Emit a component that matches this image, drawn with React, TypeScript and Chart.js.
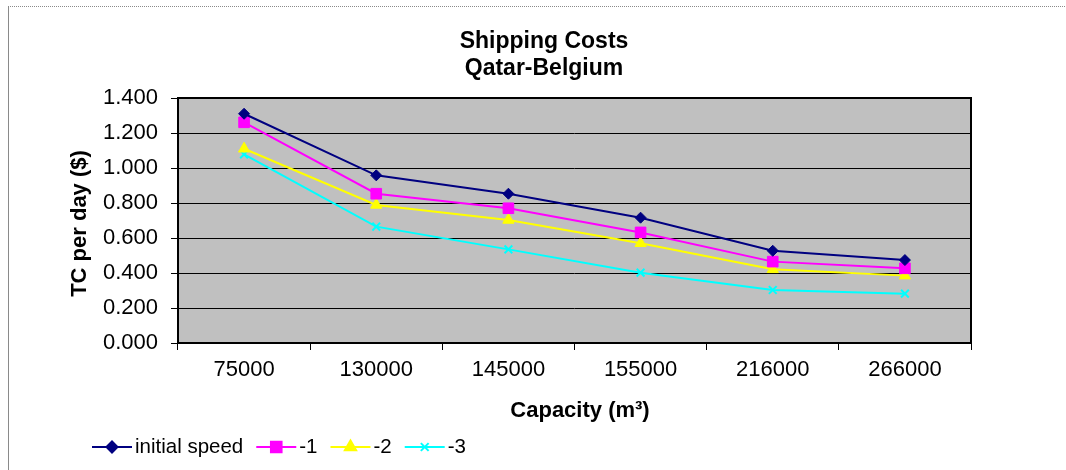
import React, { useEffect, useRef } from "react";
import { Chart, registerables } from "chart.js";
import { drawPoint } from "chart.js/helpers";

Chart.register(...registerables);

// Vessel capacities (m³) on the category axis
const capacities = ["75000", "130000", "145000", "155000", "216000", "266000"];

// Time-charter cost per day for each speed setting
const initialSpeed = [1.31, 0.958, 0.853, 0.716, 0.527, 0.474];
const speedMinus1 = [1.261, 0.853, 0.77, 0.632, 0.465, 0.427];
const speedMinus2 = [1.11, 0.789, 0.703, 0.57, 0.421, 0.385];
const speedMinus3 = [1.078, 0.665, 0.535, 0.402, 0.303, 0.282];

const seriesNames = ["initial speed", "-1", "-2", "-3"];
const titleLines = ["Shipping Costs", "Qatar-Belgium"];
const yAxisTitle = "TC per day ($)";
const xAxisTitle = "Capacity (m³)";

const yMin = 0;
const yMax = 1.4;
const yStep = 0.2;

const FONT = "'Liberation Sans', Arial, Helvetica, sans-serif";

const seriesStyles = [
  { color: "#000080", pointStyle: "rectRot", radius: 5.5 },
  { color: "#FF00FF", pointStyle: "rect", radius: 7.5 },
  { color: "#FFFF00", pointStyle: "triangle", radius: 6.5 },
  { color: "#00FFFF", pointStyle: "crossRot", radius: 5.5 },
];

const decorations = {
  id: "decorations",
  beforeDraw(chart: any) {
    const { ctx, chartArea: a } = chart;
    ctx.save();
    ctx.fillStyle = "#ffffff";
    ctx.fillRect(0, 0, chart.width, chart.height);
    // outer frame
    ctx.strokeStyle = "#8a8a8a";
    ctx.lineWidth = 1;
    ctx.setLineDash([1, 1]);
    ctx.beginPath();
    ctx.moveTo(8, 6.5);
    ctx.lineTo(chart.width, 6.5);
    ctx.stroke();
    ctx.setLineDash([]);
    ctx.beginPath();
    ctx.moveTo(8.5, 6);
    ctx.lineTo(8.5, chart.height);
    ctx.stroke();
    // plot background
    ctx.fillStyle = "#c0c0c0";
    ctx.fillRect(a.left, a.top, a.right - a.left, a.bottom - a.top);
    ctx.restore();
  },
  beforeDatasetsDraw(chart: any) {
    const { ctx, chartArea: a } = chart;
    ctx.save();
    ctx.strokeStyle = "#000000";
    ctx.lineWidth = 2;
    ctx.strokeRect(a.left, a.top, a.right - a.left, a.bottom - a.top);
    ctx.restore();
  },
  afterDraw(chart: any) {
    const { ctx, chartArea: a } = chart;
    ctx.save();
    ctx.fillStyle = "#000000";
    ctx.textAlign = "center";
    ctx.textBaseline = "middle";

    // chart title
    ctx.font = `bold 23px ${FONT}`;
    ctx.fillText(titleLines[0], 544, 42);
    ctx.fillText(titleLines[1], 544, 69);

    // x axis title
    ctx.font = `bold 22px ${FONT}`;
    ctx.fillText(xAxisTitle, 580, 411);

    // y axis title
    ctx.save();
    ctx.translate(80, (a.top + a.bottom) / 2 + 3);
    ctx.rotate(-Math.PI / 2);
    ctx.fillText(yAxisTitle, 0, 0);
    ctx.restore();

    // legend: line sample with marker, then label
    ctx.font = `20.5px ${FONT}`;
    ctx.textAlign = "left";
    let x = 92;
    const y = 447;
    chart.data.datasets.forEach((ds: any, i: number) => {
      const st = seriesStyles[i];
      const len = 40;
      ctx.strokeStyle = st.color;
      ctx.fillStyle = st.color;
      ctx.lineWidth = 2;
      ctx.beginPath();
      ctx.moveTo(x, y);
      ctx.lineTo(x + len, y);
      ctx.stroke();
      drawPoint(
        ctx,
        { pointStyle: st.pointStyle as any, radius: st.radius, rotation: 0, borderWidth: 2 },
        x + len / 2,
        y
      );
      ctx.fillStyle = "#000000";
      const tx = x + len + 3;
      ctx.fillText(ds.label, tx, y);
      x = tx + ctx.measureText(ds.label).width + 13;
    });
    ctx.restore();
  },
};

export default function App() {
  const canvasRef = useRef<HTMLCanvasElement | null>(null);

  useEffect(() => {
    if (!canvasRef.current) return;
    const seriesData = [initialSpeed, speedMinus1, speedMinus2, speedMinus3];
    const chart = new Chart(canvasRef.current, {
      type: "line",
      data: {
        labels: capacities,
        datasets: seriesData.map((values, i) => ({
          label: seriesNames[i],
          data: values,
          borderColor: seriesStyles[i].color,
          backgroundColor: seriesStyles[i].color,
          pointBackgroundColor: seriesStyles[i].color,
          pointBorderColor: seriesStyles[i].color,
          pointStyle: seriesStyles[i].pointStyle as any,
          pointRadius: seriesStyles[i].radius,
          pointBorderWidth: i === 3 ? 2 : 1,
          borderWidth: 2,
          tension: 0,
          fill: false,
        })),
      },
      options: {
        animation: false,
        responsive: false,
        devicePixelRatio: 1,
        layout: { padding: { left: 100, right: 95, top: 98, bottom: 80 } },
        plugins: {
          legend: { display: false },
          title: { display: false },
          tooltip: { enabled: false },
        },
        scales: {
          x: {
            type: "category",
            offset: true,
            border: { display: false },
            grid: {
              offset: true,
              drawOnChartArea: false,
              drawTicks: true,
              tickLength: 7,
              color: "#000000",
              lineWidth: 1,
            },
            ticks: {
              color: "#000000",
              font: { family: FONT, size: 22 },
              padding: 7,
              maxRotation: 0,
              autoSkip: false,
            },
            afterFit(scale: any) {
              scale.height = 47;
            },
          },
          y: {
            min: yMin,
            max: yMax,
            border: { display: false },
            grid: {
              color: "#000000",
              lineWidth: 1,
              tickLength: 7,
            },
            ticks: {
              stepSize: yStep,
              color: "#000000",
              font: { family: FONT, size: 22 },
              padding: 13,
              callback: (v: any) => Number(v).toFixed(3),
            },
            afterFit(scale: any) {
              scale.width = 78;
            },
          },
        },
      },
      plugins: [decorations],
    });
    return () => chart.destroy();
  }, []);

  return (
    <div style={{ position: "absolute", left: 0, top: 0, width: 1066, height: 470 }}>
      <canvas ref={canvasRef} width={1066} height={470} />
    </div>
  );
}
